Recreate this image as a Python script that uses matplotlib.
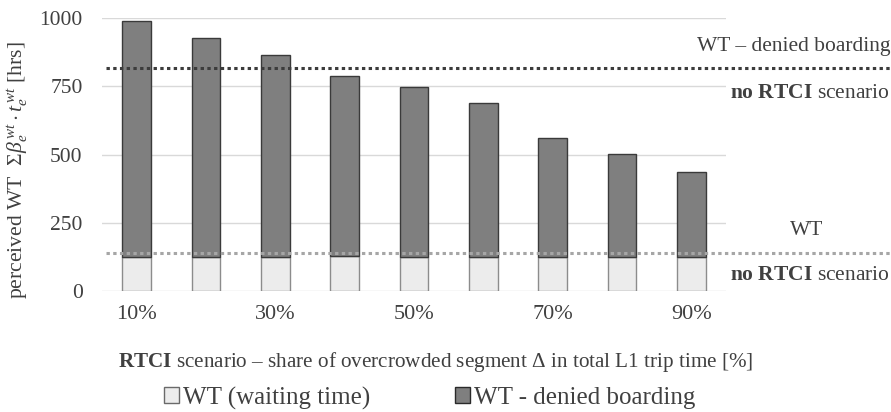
import numpy as np
import matplotlib
matplotlib.use("Agg")
import matplotlib.pyplot as plt
from matplotlib.patches import Patch

plt.rcParams['font.family'] = ['Liberation Serif', 'DejaVu Serif']
plt.rcParams['mathtext.fontset'] = 'custom'
plt.rcParams['mathtext.rm'] = 'Liberation Serif'
plt.rcParams['mathtext.it'] = 'Liberation Serif:italic'
plt.rcParams['mathtext.bf'] = 'Liberation Serif:bold'

# data
shares = ['10%', '20%', '30%', '40%', '50%', '60%', '70%', '80%', '90%']
wt = [125, 125, 125, 127, 125, 125, 125, 125, 125]
totals = [990, 927, 864, 788, 747, 689, 560, 502, 436]
denied = [t - w for t, w in zip(totals, wt)]
ref_denied = 817   # no RTCI scenario, WT - denied boarding
ref_wt = 139       # no RTCI scenario, WT

txt = '#404040'
fig = plt.figure(figsize=(8.91, 4.12), dpi=100)
ax = fig.add_axes([0.1145, 0.2937, 0.7003, 0.6626])

x = np.arange(len(shares))
ax.bar(x, wt, width=0.41, color='#ececec', edgecolor='#8c8c8c', linewidth=1.0, zorder=3)
ax.bar(x, denied, bottom=wt, width=0.41, color='#7f7f7f', edgecolor='#3a3a3a', linewidth=1.0, zorder=3)

ax.set_xlim(-0.5, len(shares) - 0.5)
ax.set_ylim(0, 1000)
ax.set_yticks([0, 250, 500, 750, 1000])
ax.set_xticks(x[::2])
ax.set_xticklabels(shares[::2])
ax.grid(axis='y', color='#d9d9d9', linewidth=1.0, zorder=0)
for s in ax.spines.values():
    s.set_visible(False)
ax.tick_params(axis='x', length=0, labelsize=16, colors=txt, pad=10)
ax.tick_params(axis='y', length=0, labelsize=15.5, colors=txt, pad=14)

# reference lines, running past the plot area into the right margin
ax.plot([0.006, 1.263], [ref_denied, ref_denied], transform=ax.get_yaxis_transform(),
        color='#3c3c3c', linestyle=(0, (1.1, 1.1)), linewidth=2.2, clip_on=False, zorder=4)
ax.plot([0.006, 1.263], [ref_wt, ref_wt], transform=ax.get_yaxis_transform(),
        color='#a6a6a6', linestyle=(0, (1.1, 1.1)), linewidth=2.2, clip_on=False, zorder=4)

ax.text(1.263, 895, 'WT – denied boarding', transform=ax.get_yaxis_transform(),
        ha='right', va='center', fontsize=15.5, color=txt, clip_on=False)
ax.text(1.263, 725, r'$\mathbf{no\ RTCI}$ scenario', transform=ax.get_yaxis_transform(),
        ha='right', va='center', fontsize=15.5, color=txt, clip_on=False)
ax.text(1.13, 222, 'WT', transform=ax.get_yaxis_transform(),
        ha='center', va='center', fontsize=15.5, color=txt, clip_on=False)
ax.text(1.263, 55, r'$\mathbf{no\ RTCI}$ scenario', transform=ax.get_yaxis_transform(),
        ha='right', va='center', fontsize=15.5, color=txt, clip_on=False)

ax.set_ylabel(r'perceived WT  $\mathit{\Sigma\beta_e^{\,wt}\cdot t_e^{\,wt}}$ [hrs]',
              fontsize=15.6, color=txt)
ax.yaxis.set_label_coords(-0.115, 0.443)
ax.set_xlabel(r'$\mathbf{RTCI}$ scenario – share of overcrowded segment $\mathit{\Delta}$ in total L1 trip time [%]',
              fontsize=15.2, color=txt)
ax.xaxis.set_label_coords(0.534, -0.215)

handles = [Patch(facecolor='#ececec', edgecolor='#6a6a6a', label='WT (waiting time)'),
           Patch(facecolor='#7f7f7f', edgecolor='#2a2a2a', label='WT - denied boarding')]
fig.legend(handles=handles, loc='center', bbox_to_anchor=(0.482, 0.034), ncol=2,
           frameon=False, fontsize=18, handlelength=0.6, handleheight=0.6,
           handletextpad=0.15, columnspacing=3.4, labelcolor=txt)

fig.savefig('out.png', dpi=100)
